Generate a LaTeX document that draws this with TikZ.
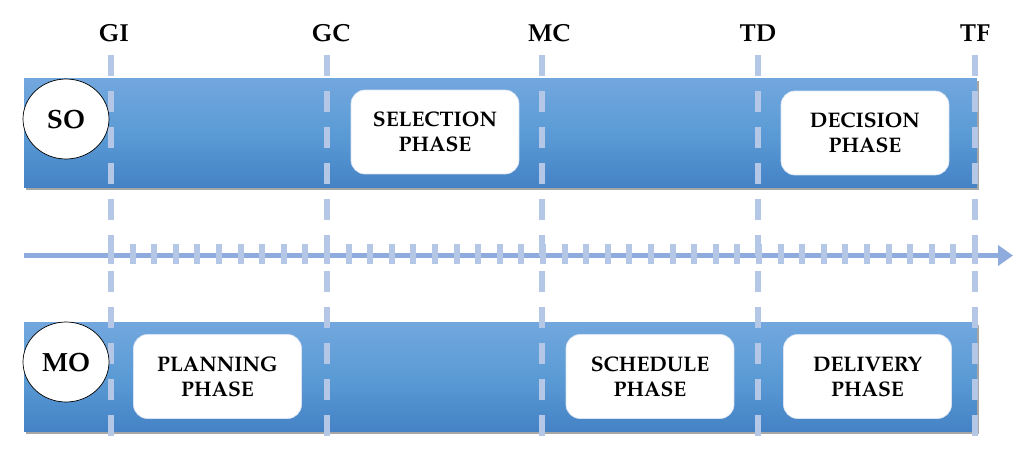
\documentclass[tikz,border=0pt]{standalone}
\usepackage[T1]{fontenc}
\usepackage{mathpazo}
\usepackage{tikz}
\usetikzlibrary{arrows.meta, positioning, shapes.geometric, shadows}
\definecolor{bartop}{HTML}{72A7DE}
\definecolor{barmid}{HTML}{5B9BD5}
\definecolor{barbot}{HTML}{4482C5}
\definecolor{guideblue}{HTML}{B4C7E7}
\definecolor{axisblue}{HTML}{8FAADC}

\begin{document}
\begin{tikzpicture}[x=0.02cm, y=-0.02cm,
    milestone/.style={font=\fontsize{14}{16}\selectfont\bfseries},
    bar/.style={rectangle, inner sep=0pt, minimum width=19.06cm, minimum height=2.2cm, top color=bartop, bottom color=barbot, middle color=barmid, drop shadow={shadow xshift=0.04cm, shadow yshift=-0.05cm, opacity=0.35, fill=black}},
    actor/.style={ellipse, draw=black, fill=white, thin, inner sep=0pt, minimum width=1.72cm, minimum height=1.6cm, font=\fontsize{15}{17}\selectfont\bfseries},
    phase/.style={rectangle, rounded corners=0.28cm, fill=white, draw=guideblue!50, minimum width=3.36cm, minimum height=1.68cm, align=center, font=\fontsize{12}{14.5}\selectfont\bfseries},
    guide/.style={guideblue, line width=0.12cm, dash pattern=on 0.42cm off 0.3cm},
    tick/.style={guideblue, line width=0.12cm},
    timeline/.style={-{Triangle[length=0.3cm, width=0.4cm]}, axisblue, line width=0.1cm}
]
\useasboundingbox (0,0) rectangle (1035,460);

% Time axis
\coordinate (axstart) at (24,255.5);
\coordinate (axend) at (1013,255.5);
\draw[timeline] (axstart) -- (axend);
\foreach \k in {0,...,40}
    \draw[tick] ({111+21.6*\k},244) -- ++(0,20);

% Bars
\node[bar] (sobar) at (500.5,133) {};
\node[bar] (mobar) at (500.5,377) {};

% Milestones
\node[milestone] (gi) at (114,33) {GI};
\node[milestone] (gc) at (331,33) {GC};
\node[milestone] (mc) at (549,33) {MC};
\node[milestone] (td) at (758,33) {TD};
\node[milestone] (tf) at (975,33) {TF};
\foreach \x in {111,327,542,758,975}
    \draw[guide] (\x,55) -- (\x,438);

% Actors
\node[actor] (so) at (66,119) {SO};
\node[actor] (mo) at (66,362) {MO};

% Phases
\node[phase] (selection) at (435,132) {SELECTION\\PHASE};
\node[phase] (decision) at (865,133) {DECISION\\PHASE};
\node[phase] (planning) at (217.5,376.5) {PLANNING\\PHASE};
\node[phase] (schedule) at (650,376.5) {SCHEDULE\\PHASE};
\node[phase] (delivery) at (867.5,376.5) {DELIVERY\\PHASE};

\end{tikzpicture}
\end{document}
